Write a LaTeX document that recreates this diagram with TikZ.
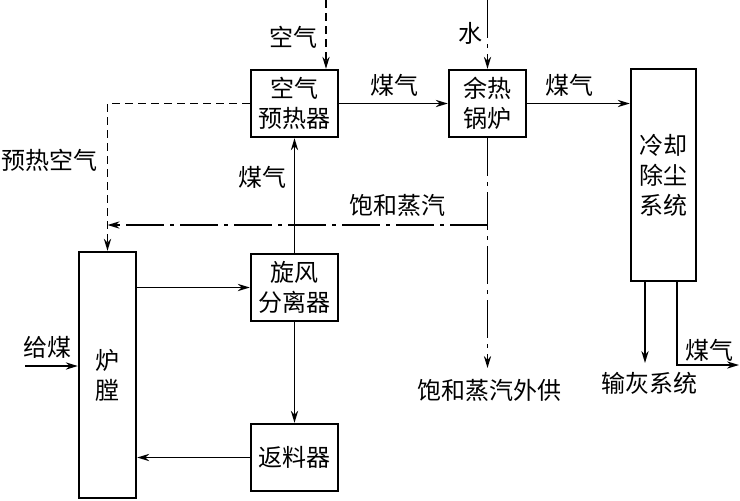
\documentclass[tikz,border=0pt]{standalone}
\usepackage{fontspec}
\setmainfont{Noto Sans CJK SC}
\usetikzlibrary{positioning,arrows.meta}

\begin{document}
\begin{tikzpicture}[x=0.5pt,y=-0.5pt,
		box/.style={draw,line width=1.2pt,rectangle,inner sep=0pt,align=center,
			minimum width=43.5pt,minimum height=33.5pt,font=\fontsize{12}{15}\selectfont},
		lbl/.style={inner sep=0pt,font=\fontsize{12}{15}\selectfont},
		gas/.style={line width=0.85pt,-{Stealth[length=6pt,width=3.6pt]}},
		air/.style={gas,dash pattern=on 4pt off 2.5pt},
		steam/.style={gas,dash pattern=on 19pt off 3pt on 2pt off 3pt}]
	\useasboundingbox (0,0) rectangle (740,500);

	% units and equipment
	\node (ap) [box] at (294.5,103.5) {空气\\预热器};
	\node (wb) [box,minimum width=38.5pt] at (487.5,103.5) {余热\\锅炉};
	\node (cd) [box,minimum width=32.5pt,minimum height=106pt] at (663.5,175) {冷却\\除尘\\系统};
	\node (lt) [box,minimum width=28.5pt,minimum height=123pt] at (107.5,375) {炉\\膛};
	\node (cy) [box] at (294.5,287.5) {旋风\\分离器};
	\node (fl) [box] at (294.5,457.5) {返料器};

	% free ends
	\coordinate (airin) at (326,0);
	\coordinate (wtin) at (487.5,0);
	\coordinate (sj) at (487.5,225);
	\coordinate (stout) at (487.5,368);
	\coordinate (coal) at (25,366);
	\coordinate (ash) at (645,363);
	\coordinate (gb) at (677,365);
	\coordinate (gout) at (739,365);

	% gas
	\draw[gas] (ap) -- (wb);
	\draw[gas] (wb.east) -- (wb.east -| cd.west);
	\draw[gas] (cy) -- (ap);
	\draw[gas] (cy.west -| lt.east) -- (cy.west);
	\draw[gas] (cy) -- (fl);
	\draw[gas] (fl.west) -- (fl.west -| lt.east);
	\draw[gas] (coal) -- (coal -| lt.west);
	\draw[gas] (ash |- cd.south) -- (ash);
	\draw[gas] (gb |- cd.south) -- (gb) -- (gout);

	% air and steam
	\draw[air] (airin) -- (airin |- ap.north);
	\draw[air] (ap.west) -| (lt.north);
	\draw[steam] (wtin) -- (wb.north);
	\draw[steam] (wb.south) -- (stout);
	\draw[steam] (sj) -- (sj -| lt.north);

	% labels
	\node (tair) [lbl] at (293,37) {空气};
	\node (twt) [lbl] at (470,33) {水};
	\node (tg1) [lbl] at (394,85) {煤气};
	\node (tg2) [lbl] at (569,85) {煤气};
	\node (tpa) [lbl] at (50,160) {预热空气};
	\node (tg3) [lbl] at (262,177) {煤气};
	\node (tst) [lbl] at (397,205) {饱和蒸汽};
	\node (tso) [lbl] at (489,390) {饱和蒸汽外供};
	\node (tcoal) [lbl] at (48,347) {给煤};
	\node (tash) [lbl] at (649,383) {输灰系统};
	\node (tg4) [lbl] at (709,350) {煤气};
\end{tikzpicture}
\end{document}
